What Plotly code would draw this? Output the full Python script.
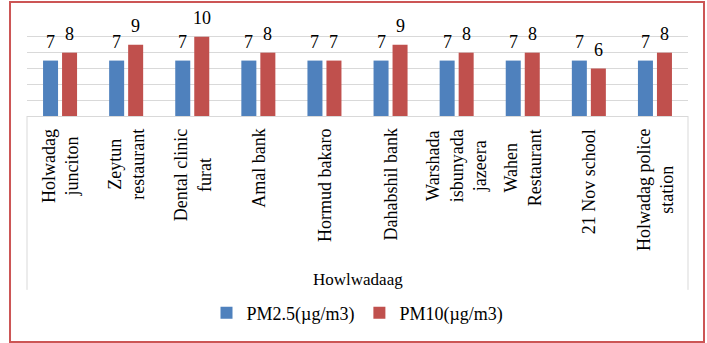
import plotly.graph_objects as go

sites = [
    "Holwadag<br>junciton", "Zeytun<br>restaurant", "Dental clinic<br>furat",
    "Amal bank", "Hormud bakaro", "Dahabshil bank",
    "Warshada<br>isbunyada<br>jazeera", "Wahen<br>Restaurant", "21 Nov school",
    "Holwadag police<br>station",
]
pm25 = [7, 7, 7, 7, 7, 7, 7, 7, 7, 7]
pm10 = [8, 9, 10, 8, 7, 9, 8, 8, 6, 8]
group_label = "Howlwadaag"
series_names = ["PM2.5(µg/m3)", "PM10(µg/m3)"]

FONT = "Liberation Serif"
BLUE = "#4f81bd"
RED = "#c0504d"

fig = go.Figure()
fig.add_trace(go.Bar(x=sites, y=pm25, name=series_names[0], marker_color=BLUE,
                     marker_line_width=0))
fig.add_trace(go.Bar(x=sites, y=pm10, name=series_names[1], marker_color=RED,
                     marker_line_width=0))

annotations = []
for s, a, b in zip(sites, pm25, pm10):
    annotations.append(dict(x=s, y=a, text=str(a), showarrow=False, xshift=-9.5,
                            yshift=7, yanchor="bottom", font=dict(family=FONT, size=18, color="#000")))
    annotations.append(dict(x=s, y=b, text=str(b), showarrow=False, xshift=9.5,
                            yshift=7, yanchor="bottom", font=dict(family=FONT, size=18, color="#000")))
    annotations.append(dict(x=s, y=0, yref="paper", text=s, showarrow=False, textangle=-90,
                            yanchor="top", yshift=-11, align="center",
                            font=dict(family=FONT, size=18, color="#000")))
annotations.append(dict(x=0.5, xref="paper", y=-1.716, yref="paper", text=group_label,
                        showarrow=False, yanchor="middle",
                        font=dict(family=FONT, size=17, color="#000")))

shapes = [
    dict(type="line", xref="paper", yref="paper", x0=0, x1=0, y0=0, y1=-1.83,
         line=dict(color="#d9d9d9", width=1)),
    dict(type="line", xref="paper", yref="paper", x0=1, x1=1, y0=0, y1=-1.83,
         line=dict(color="#d9d9d9", width=1)),
    dict(type="rect", xref="paper", yref="paper", x0=-0.0257, x1=1.0242, y0=-2.379, y1=1.2,
         line=dict(color="#cc5555", width=2)),
]

fig.update_layout(
    width=707, height=343,
    margin=dict(l=27, r=19, t=21, b=227, autoexpand=False),
    paper_bgcolor="white", plot_bgcolor="white",
    barmode="group", bargap=0.425, bargroupgap=0.21,
    showlegend=True,
    legend=dict(orientation="h", x=0.5, xanchor="center", y=0.0875, yanchor="middle",
                yref="container", font=dict(family=FONT, size=18, color="#000"), itemwidth=30),
    xaxis=dict(showticklabels=False, showline=True, linecolor="#d9d9d9", linewidth=1,
               ticks="", showgrid=False),
    yaxis=dict(range=[0, 12], dtick=2, showticklabels=False, showgrid=True,
               gridcolor="#d9d9d9", gridwidth=1, zeroline=False, showline=False, ticks=""),
    annotations=annotations,
    shapes=shapes,
    font=dict(family=FONT),
)

fig.write_html("out.html", config={"displayModeBar": False},
               post_script="document.body.style.margin='0';document.body.style.overflow='hidden';")
